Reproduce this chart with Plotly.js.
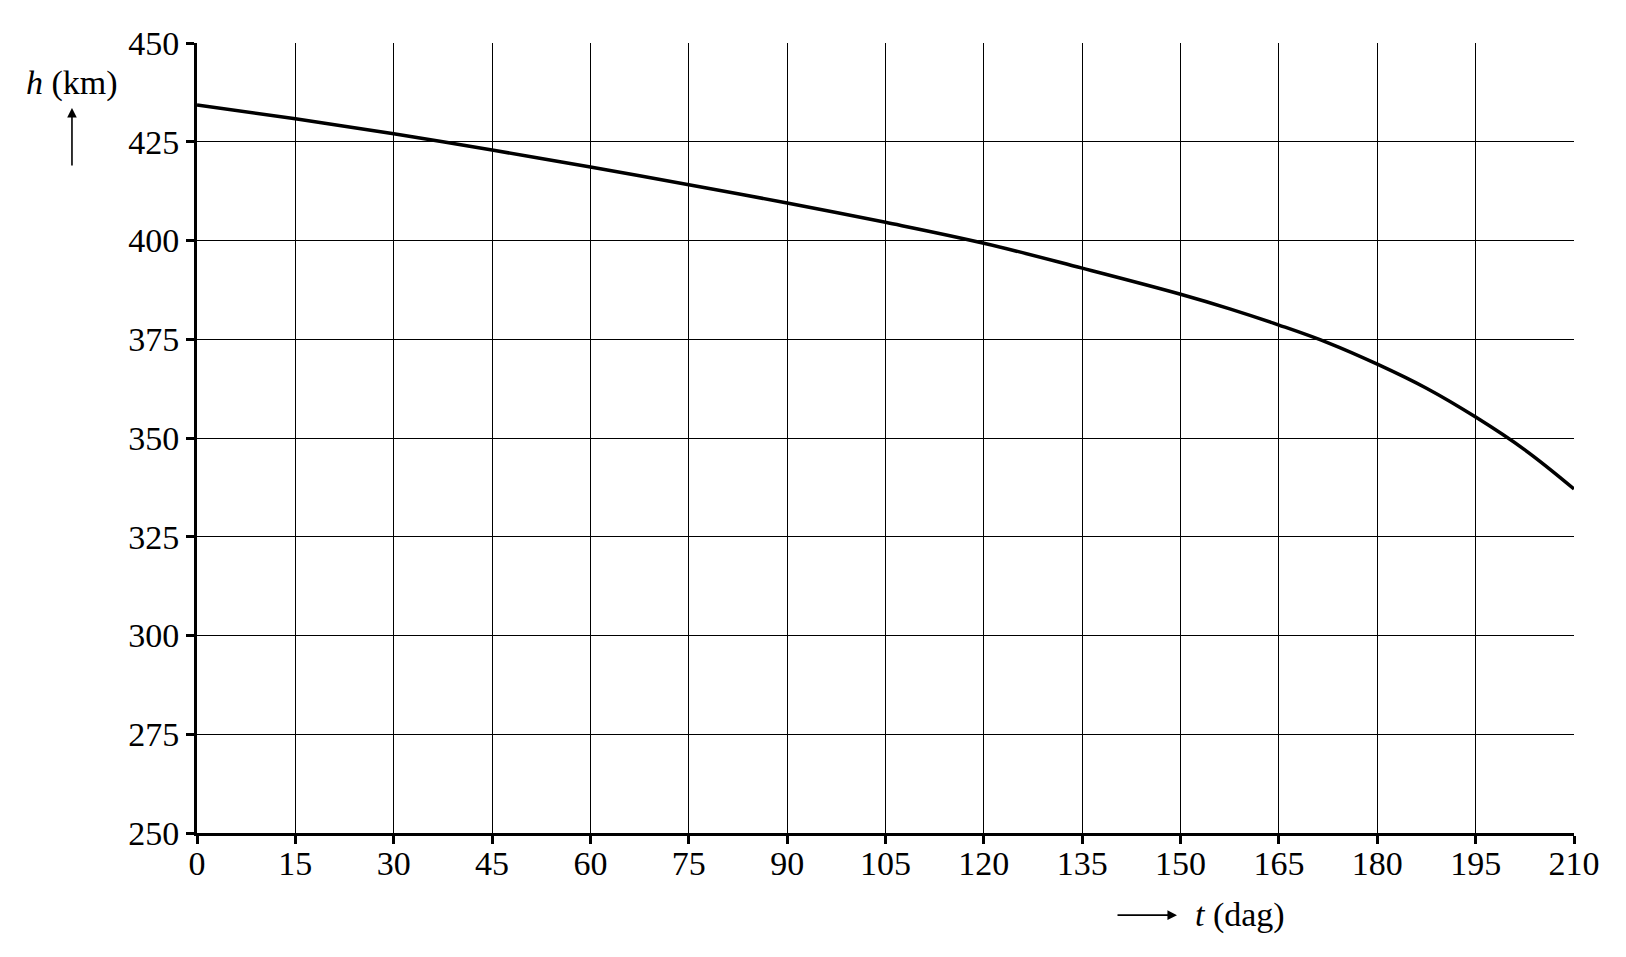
<!DOCTYPE html>
<html>
<head>
<meta charset="utf-8">
<script src="https://cdn.plot.ly/plotly-3.0.1.min.js"></script>
<style>
  html, body { margin: 0; padding: 0; background: #fff; }
  #chart { width: 1626px; height: 957px; }
</style>
</head>
<body>
<div id="chart"></div>
<script>
// hoogte h (km) tegen tijd t (dag)
var tDays = [0, 15, 30, 45, 60, 75, 90, 105, 120, 135, 150, 157.5, 165, 172.5, 180, 187.5, 195, 202.5, 210]
var heightKm = [434.3, 430.8, 427.0, 422.9, 418.6, 414.1, 409.5, 404.6, 399.3, 393.0, 386.4, 382.7, 378.6, 374.1, 368.7, 362.6, 355.3, 347.0, 337.1]

var xTicks = [0, 15, 30, 45, 60, 75, 90, 105, 120, 135, 150, 165, 180, 195, 210]
var yTicks = [250, 275, 300, 325, 350, 375, 400, 425, 450]

var serif = 'Liberation Serif, Times New Roman, serif'

var trace = {
    x: tDays,
    y: heightKm,
    type: 'scatter',
    mode: 'lines',
    line: { color: '#000', width: 3.5, shape: 'spline', smoothing: 1.1 },
    hoverinfo: 'x+y',
    showlegend: false
}

var layout = {
    width: 1626,
    height: 957,
    margin: { l: 197, r: 52, t: 43, b: 124 },
    paper_bgcolor: '#fff',
    plot_bgcolor: '#fff',
    font: { family: serif, size: 34, color: '#000' },
    showlegend: false,
    xaxis: {
        range: [0, 210],
        tickvals: xTicks,
        ticktext: xTicks.map(String),
        ticklabelstandoff: -10,
        showgrid: true,
        gridcolor: '#000',
        gridwidth: 1.3,
        zeroline: false,
        showline: true,
        linecolor: '#000',
        linewidth: 3,
        ticks: 'outside',
        ticklen: 8,
        tickwidth: 2.5,
        tickcolor: '#000',
        fixedrange: true
    },
    yaxis: {
        range: [250, 450],
        tickvals: yTicks,
        ticktext: yTicks.map(String),
        showgrid: true,
        gridcolor: '#000',
        gridwidth: 1.3,
        zeroline: false,
        showline: true,
        linecolor: '#000',
        linewidth: 3,
        ticks: 'outside',
        ticklen: 8,
        tickwidth: 2.5,
        tickcolor: '#000',
        fixedrange: true
    },
    // second pair of axes only for the inner half of the ticks
    xaxis2: {
        overlaying: 'x',
        anchor: 'y',
        side: 'bottom',
        range: [0, 210],
        tickvals: xTicks,
        showticklabels: false,
        showgrid: false,
        zeroline: false,
        showline: false,
        ticks: 'inside',
        ticklen: 8,
        tickwidth: 2.5,
        tickcolor: '#000',
        fixedrange: true
    },
    yaxis2: {
        overlaying: 'y',
        anchor: 'x',
        side: 'left',
        range: [250, 450],
        tickvals: yTicks,
        showticklabels: false,
        showgrid: false,
        zeroline: false,
        showline: false,
        ticks: 'inside',
        ticklen: 8,
        tickwidth: 2.5,
        tickcolor: '#000',
        fixedrange: true
    },
    annotations: [
        {
            xref: 'paper', yref: 'paper',
            x: -0.0908, y: 0.949,
            text: '<i>h</i> (km)',
            showarrow: false,
            xanchor: 'center', yanchor: 'middle',
            font: { family: serif, size: 34, color: '#000' }
        },
        {
            // pijl omhoog onder h (km)
            xref: 'paper', yref: 'paper',
            x: -0.0908, y: 0.9177,
            ax: 0, ay: 59,
            text: '',
            showarrow: true,
            arrowhead: 2, arrowsize: 1.2, arrowwidth: 1.6, arrowcolor: '#000'
        },
        {
            xref: 'paper', yref: 'paper',
            x: 0.7574, y: -0.104,
            text: '<i>t</i> (dag)',
            showarrow: false,
            xanchor: 'center', yanchor: 'middle',
            font: { family: serif, size: 34, color: '#000' }
        },
        {
            // pijl naar rechts voor t (dag)
            xref: 'paper', yref: 'paper',
            x: 0.7117, y: -0.104,
            ax: -61, ay: 0,
            text: '',
            showarrow: true,
            arrowhead: 2, arrowsize: 1.2, arrowwidth: 1.6, arrowcolor: '#000'
        }
    ]
}

var config = { displayModeBar: false }

Plotly.newPlot('chart', [trace], layout, config)
</script>
</body>
</html>
